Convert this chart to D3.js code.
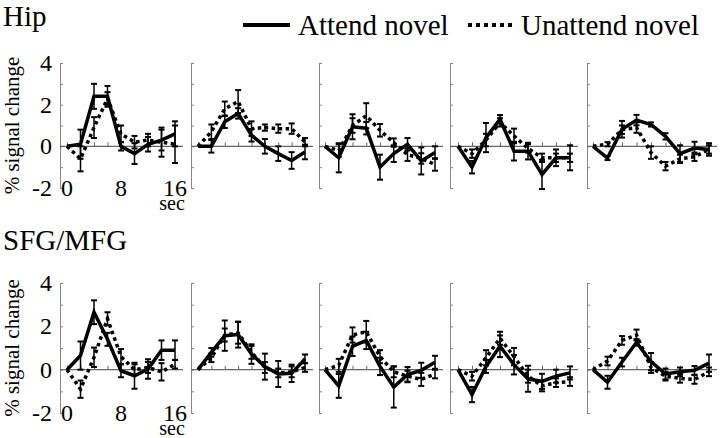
<!DOCTYPE html>
<html><head><meta charset="utf-8">
<script src="https://cdn.jsdelivr.net/npm/d3@7/dist/d3.min.js"></script>
<style>html,body{margin:0;padding:0;background:#fff;}svg{display:block;}</style>
</head><body>
<script>
const times = [0,2,4,6,8,10,12,14,16];
const yTickLabels = [4,2,0,-2];
const xTickLabels = [0,8,16];
const regions = ["Hip","SFG/MFG"];
const seriesNames = ["Attend novel","Unattend novel"];

const hipAttend = [
  [0,0.1,2.4,2.4,0,-0.35,0.1,0.3,0.6],
  [0,0,1.18,1.58,0.53,0,-0.35,-0.68,-0.27],
  [0,-0.55,0.94,0.87,-1.0,-0.35,0.1,-0.7,-0.3],
  [0,-1.0,0.42,1.3,-0.23,-0.23,-1.35,-0.55,-0.55],
  [0,-0.56,0.82,1.26,1.05,0.48,-0.35,-0.08,-0.15]
];
const hipAttendErr = [
  [0,0.7,0.6,0.5,0.2,0.5,0.35,0.5,0.6],
  [0,0.3,0.3,0.25,0.3,0.35,0.35,0.4,0.35],
  [0,0.7,0.6,0.3,0.6,0.4,0.3,0.65,0.3],
  [0,0.3,0.7,0.2,0.45,0.4,0.7,0.4,0.6],
  [0,0.1,0.4,0.25,0.1,0.15,0.4,0.3,0.3]
];
const hipUnattend = [
  [0,-0.6,0.9,2.3,0.6,0.2,0.3,0.2,0.1],
  [0,0.7,1.8,2.15,0.85,0.9,0.85,0.85,0.2],
  [0,-0.2,1.0,1.47,0.77,0.18,-0.4,-0.58,-0.87],
  [0,-0.35,0.3,1.15,0.5,-0.1,-0.55,-0.55,-0.55],
  [0,0.1,0.8,0.9,-0.3,-0.95,-0.6,-0.5,-0.15]
];
const hipUnattendErr = [
  [0,0.6,0.5,0.3,0.4,0.3,0.3,0.7,0.9],
  [0,0.35,0.35,0.55,0.35,0.15,0.2,0.25,0.2],
  [0,0.3,0.35,0.6,0.3,0.2,0.3,0.25,0.3],
  [0,0.2,0.3,0.2,0.35,0.2,0.2,0.2,0.2],
  [0,0.1,0.2,0.25,0.3,0.2,0.2,0.2,0.2]
];
const sfgAttend = [
  [0,0.65,2.65,1.4,-0.05,-0.28,0.03,0.9,0.9],
  [0,0.8,1.57,1.62,0.72,0.14,-0.2,-0.17,0.5],
  [0,-0.75,1.08,1.35,0.15,-0.8,-0.23,-0.03,0.34],
  [0,-1.15,0.15,1.08,0.23,-0.42,-0.54,-0.3,-0.15],
  [0,-0.58,0.35,1.26,0.37,-0.2,-0.1,-0.03,0.3]
];
const sfgAttendErr = [
  [0,0.65,0.55,0.3,0.3,0.6,0.45,0.45,0.45],
  [0,0.2,0.7,0.6,0.45,0.6,0.6,0.4,0.2],
  [0,0.55,0.45,0.4,0.4,0.95,0.35,0.35,0.3],
  [0,0.35,0.3,0.5,0.45,0.6,0.35,0.3,0.3],
  [0,0.3,0.2,0.15,0.4,0.25,0.2,0.2,0.4]
];
const sfgUnattend = [
  [0,-0.9,0.57,2.35,0.6,0.0,0.1,-0.1,0.25],
  [0,0.55,1.6,1.7,0.8,0.1,-0.15,-0.1,0.1],
  [0,0.2,1.6,1.75,0.6,-0.1,-0.3,-0.45,-0.2],
  [0,-0.3,0.55,1.45,0.6,-0.3,-0.75,-0.6,-0.55],
  [0,0.4,1.35,1.6,0.1,-0.3,-0.4,-0.45,-0.1]
];
const sfgUnattendErr = [
  [0,0.4,0.45,0.3,0.35,0.25,0.25,0.4,0.2],
  [0,0.2,0.3,0.5,0.3,0.25,0.2,0.25,0.2],
  [0,0.3,0.35,0.5,0.3,0.25,0.25,0.3,0.2],
  [0,0.2,0.35,0.3,0.4,0.3,0.25,0.2,0.2],
  [0,0.2,0.2,0.25,0.25,0.2,0.2,0.2,0.2]
];

// layout
const W = 720, H = 438;
const colAxisX = [60,191,319,450,587];
const colX0 = [67,198,325,458,593];
const colX16 = [175,305,435,570,709];
const rowTop = [63,283];
const rowBot = [188,413];
const FONT = "'Liberation Serif','Times New Roman',serif";

const svg = d3.select("body").append("svg").attr("width",W).attr("height",H)
  .style("font-family",FONT);

const rowsData = [
  {attend: hipAttend, attendErr: hipAttendErr, un: hipUnattend, unErr: hipUnattendErr},
  {attend: sfgAttend, attendErr: sfgAttendErr, un: sfgUnattend, unErr: sfgUnattendErr}
];

const titleY = [26, 250];
regions.forEach((r,i)=>{
  svg.append("text").attr("x",3).attr("y",titleY[i]).attr("font-size",29).text(r);
});

// legend
const lg = svg.append("g");
lg.append("line").attr("x1",243).attr("x2",290).attr("y1",25).attr("y2",25)
  .attr("stroke","#000").attr("stroke-width",4);
lg.append("text").attr("x",298).attr("y",35).attr("font-size",29).text(seriesNames[0]);
lg.append("line").attr("x1",468).attr("x2",512).attr("y1",25).attr("y2",25)
  .attr("stroke","#000").attr("stroke-width",4).attr("stroke-dasharray","4,4");
lg.append("text").attr("x",521).attr("y",35).attr("font-size",29).text(seriesNames[1]);

rowsData.forEach((rd,ri)=>{
  const y = d3.scaleLinear().domain([-2,4]).range([rowBot[ri],rowTop[ri]]);
  // y label
  const cy = (rowTop[ri]+rowBot[ri])/2;
  svg.append("text").attr("transform",`translate(19,${cy}) rotate(-90)`)
    .attr("text-anchor","middle").attr("font-size",21).text("% signal change");
  for(let c=0;c<5;c++){
    const x = d3.scaleLinear().domain([0,16]).range([colX0[c],colX16[c]]);
    const g = svg.append("g");
    // y axis
    const yAxis = d3.axisRight(y).tickValues(d3.range(-2,5,1)).tickSize(3).tickFormat("");
    const ya = g.append("g").attr("transform",`translate(${colAxisX[c]},0)`).call(yAxis);
    ya.select(".domain").attr("stroke","#888").attr("stroke-width",1);
    ya.selectAll(".tick line").attr("stroke","#888");
    // x axis at zero
    const xEnd = colX16[c]+8;
    g.append("line").attr("x1",colAxisX[c]).attr("x2",xEnd).attr("y1",y(0)).attr("y2",y(0))
      .attr("stroke","#666").attr("stroke-width",1.2);
    const xAxis = d3.axisTop(x).tickValues(d3.range(0,18,2)).tickSize(4).tickFormat("");
    const xa = g.append("g").attr("transform",`translate(0,${y(0)})`).call(xAxis);
    xa.select(".domain").remove();
    xa.selectAll(".tick line").attr("stroke","#666");
    if(c===0){
      yTickLabels.forEach(v=>{
        g.append("text").attr("x",colAxisX[c]-8).attr("y",y(v)).attr("dy","0.33em")
          .attr("text-anchor","end").attr("font-size",24).text(v);
      });
      xTickLabels.forEach(v=>{
        g.append("text").attr("x",x(v)).attr("y",rowBot[ri]+8)
          .attr("text-anchor","middle").attr("font-size",24).text(v);
      });
      g.append("text").attr("x",x(16)-3).attr("y",rowBot[ri]+22)
        .attr("text-anchor","middle").attr("font-size",20).text("sec");
    }
    const series = [
      {vals: rd.attend[c], err: rd.attendErr[c], dash: null},
      {vals: rd.un[c], err: rd.unErr[c], dash: "3.5,3.5"}
    ];
    // error bars
    series.forEach(s=>{
      s.vals.forEach((v,i)=>{
        const e = s.err[i];
        if(!e) return;
        const xx = x(times[i]);
        g.append("line").attr("x1",xx).attr("x2",xx).attr("y1",y(v-e)).attr("y2",y(v+e))
          .attr("stroke","#000").attr("stroke-width",1.5);
        [v-e,v+e].forEach(t=>{
          g.append("line").attr("x1",xx-3).attr("x2",xx+3).attr("y1",y(t)).attr("y2",y(t))
            .attr("stroke","#000").attr("stroke-width",2);
        });
      });
    });
    const line = d3.line().x((d,i)=>x(times[i])).y(d=>y(d));
    series.slice().reverse().forEach(s=>{
      const p = g.append("path").datum(s.vals).attr("d",line).attr("fill","none")
        .attr("stroke","#000").attr("stroke-width",3.5).attr("stroke-linejoin","miter");
      if(s.dash) p.attr("stroke-dasharray",s.dash);
    });
  }
});
</script>
</body></html>
